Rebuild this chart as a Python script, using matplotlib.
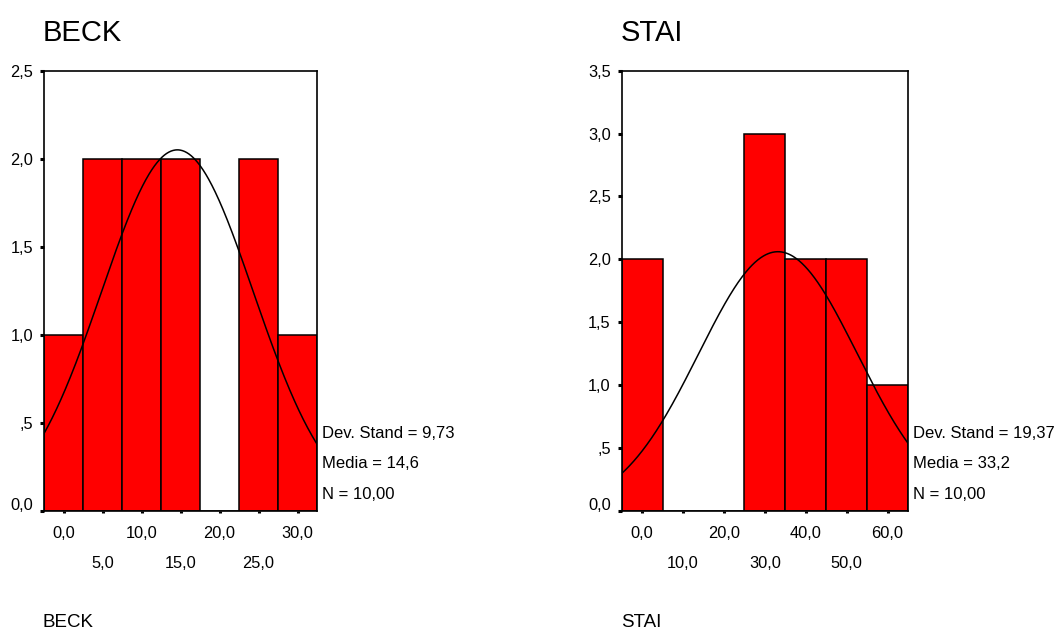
import numpy as np
import matplotlib
matplotlib.use("Agg")
import matplotlib.pyplot as plt
from matplotlib.transforms import ScaledTranslation

plt.rcParams['font.family'] = ['Liberation Sans', 'DejaVu Sans']

# Frequency tables (bin centres and counts) with summary statistics
beck_centers = [0, 5, 10, 15, 20, 25, 30]
beck_counts = [1, 2, 2, 2, 0, 2, 1]
beck_width = 5
beck_mean, beck_sd, beck_n = 14.6, 9.73, 10
beck_yticks = [0.0, 0.5, 1.0, 1.5, 2.0, 2.5]

stai_centers = [0, 10, 20, 30, 40, 50, 60]
stai_counts = [2, 0, 0, 3, 2, 2, 1]
stai_width = 10
stai_mean, stai_sd, stai_n = 33.2, 19.37, 10
stai_yticks = [0.0, 0.5, 1.0, 1.5, 2.0, 2.5, 3.0, 3.5]

stat_labels = ["Dev. Stand = {sd}", "Media = {mean}", "N = {n}"]


def comma(v, decimals=1):
    s = f"{v:.{decimals}f}".replace('.', ',')
    if s.startswith('0,') and v != 0:
        s = s[1:]
    return s


W, H, DPI = 1059, 631, 100
fig = plt.figure(figsize=(W / DPI, H / DPI), dpi=DPI)

RED = '#ff0000'
TICK_FS = 11.8


def histogram(rect, title, centers, counts, width, mean, sd, n, yticks):
    ax = fig.add_axes(rect)
    ax.bar(centers, counts, width=width, color=RED, edgecolor='black',
           linewidth=1.1, zorder=2)
    xmin = centers[0] - width / 2
    xmax = centers[-1] + width / 2
    xs = np.linspace(xmin, xmax, 500)
    ys = n * width * np.exp(-0.5 * ((xs - mean) / sd) ** 2) / (sd * np.sqrt(2 * np.pi))
    ax.plot(xs, ys, color='black', linewidth=1.1, zorder=3)
    ax.set_xlim(xmin, xmax)
    ax.set_ylim(0, yticks[-1])

    for sp in ax.spines.values():
        sp.set_linewidth(1.2)
        sp.set_zorder(4)

    ax.set_yticks(yticks)
    ax.set_yticklabels([comma(v) for v in yticks])
    ax.tick_params(axis='y', direction='out', length=2.9, width=2.2, pad=5,
                   labelsize=TICK_FS)

    major = centers[0::2]
    minor = centers[1::2]
    ax.set_xticks(major)
    ax.set_xticklabels([comma(v) for v in major])
    ax.set_xticks(minor, minor=True)
    ax.set_xticklabels([comma(v) for v in minor], minor=True)
    ax.tick_params(axis='x', which='both', direction='out', length=1.5,
                   width=2.2, labelsize=TICK_FS)
    ax.tick_params(axis='x', which='major', pad=10)
    ax.tick_params(axis='x', which='minor', pad=31.5)

    # the lowest y label sits a little above its tick
    lab0 = ax.get_yticklabels()[0]
    lab0.set_transform(lab0.get_transform() +
                       ScaledTranslation(0, 6 / DPI, fig.dpi_scale_trans))

    values = dict(sd=comma(sd, 2), mean=comma(mean, 1), n=comma(n, 2))
    for txt, dy in zip(stat_labels, [55.8, 33.5, 11.2]):
        ax.annotate(txt.format(**values), xy=(1, 0), xycoords='axes fraction',
                    xytext=(3.6, dy), textcoords='offset points',
                    ha='left', va='center', fontsize=12, annotation_clip=False)

    x0 = rect[0] - 1 / W
    fig.text(x0, 1 - 41 / H, title, ha='left', va='baseline', fontsize=21)
    fig.text(x0, 4 / H, title, ha='left', va='baseline', fontsize=13.5)
    return ax


y0 = (H - 510.5) / H
hgt = 439.8 / H
histogram([44 / W, y0, 273 / W, hgt], 'BECK', beck_centers, beck_counts,
          beck_width, beck_mean, beck_sd, beck_n, beck_yticks)
histogram([621.7 / W, y0, 286.3 / W, hgt], 'STAI', stai_centers, stai_counts,
          stai_width, stai_mean, stai_sd, stai_n, stai_yticks)

fig.savefig('out.png', dpi=DPI)
